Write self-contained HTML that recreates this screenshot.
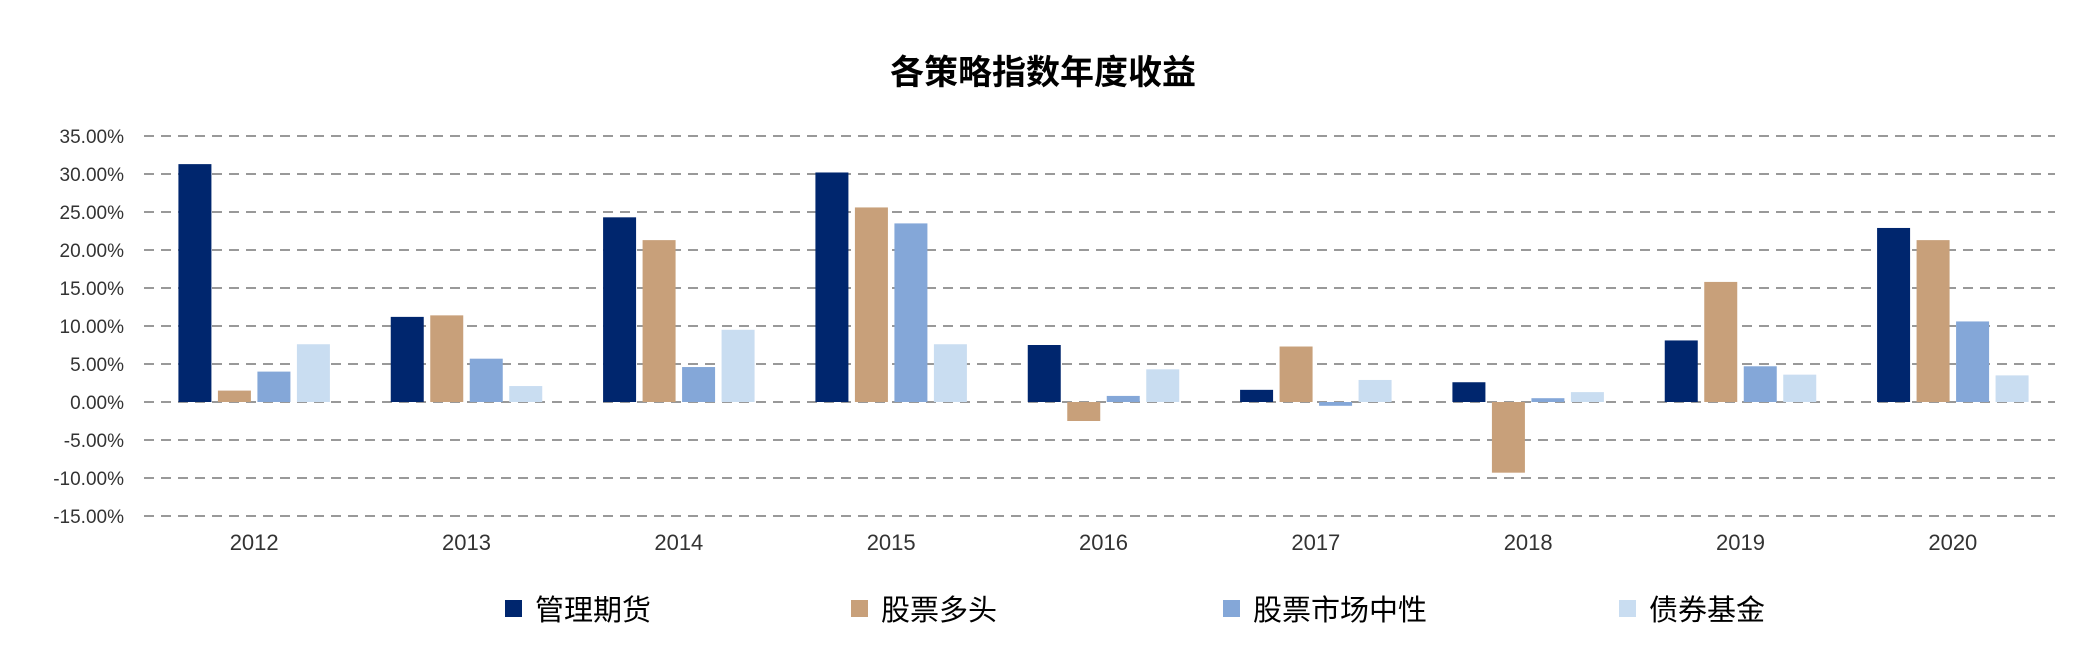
<!DOCTYPE html>
<html><head><meta charset="utf-8">
<style>
html,body{margin:0;padding:0;background:#fff;}
svg{display:block;}
text{font-family:"Liberation Sans","Noto Sans CJK SC",sans-serif;}
</style></head>
<body>
<svg id="chart" width="2085" height="668" viewBox="0 0 2085 668">
<text x="1043" y="84" text-anchor="middle" font-size="34" font-weight="bold" fill="#000">各策略指数年度收益</text>
<g id="grid"></g><g id="bars"></g><g id="labels"></g><g id="legend"></g>
</svg>
<script>
const categories = ["2012","2013","2014","2015","2016","2017","2018","2019","2020"];
const seriesNames = ["管理期货","股票多头","股票市场中性","债券基金"];
const managedFutures = [31.3,11.2,24.3,30.2,7.5,1.6,2.6,8.1,22.9];
const stockLong = [1.5,11.4,21.3,25.6,-2.5,7.3,-9.3,15.8,21.3];
const marketNeutral = [4.0,5.7,4.6,23.5,0.8,-0.5,0.5,4.7,10.6];
const bondFund = [7.6,2.1,9.5,7.6,4.3,2.9,1.3,3.6,3.5];
const yTicks = [35,30,25,20,15,10,5,0,-5,-10,-15];
const yTickLabels = ["35.00%","30.00%","25.00%","20.00%","15.00%","10.00%","5.00%","0.00%","-5.00%","-10.00%","-15.00%"];

const NS="http://www.w3.org/2000/svg";
const colors=["#00266E","#C8A07A","#84A7D8","#C9DDF1"];
const series=[managedFutures,stockLong,marketNeutral,bondFund];
const X0=144,X1=2055,Y35=136,Y0=402;
const pxPer=(Y0-Y35)/35;
function y(v){return Y0-v*pxPer;}
const gw=(X1-X0)/categories.length;
function gx(i){return X0+gw*(i+0.5)+4;}
function mk(t,a,p){const e=document.createElementNS(NS,t);for(const k in a)e.setAttribute(k,a[k]);p.appendChild(e);return e;}
const grid=document.getElementById('grid'),bars=document.getElementById('bars'),labels=document.getElementById('labels'),legend=document.getElementById('legend');
yTicks.forEach((t,i)=>{
  const l=mk('line',{x1:X0,x2:X1,y1:y(t),y2:y(t),stroke:'#999','stroke-width':2,'stroke-dasharray':'10 7'},grid);
  
  
  const tx=mk('text',{x:124,y:y(t)+7,'text-anchor':'end','font-size':19,fill:'#333'},labels);
  tx.textContent=yTickLabels[i];
  
  
});
const bw=33,step=39.5;
categories.forEach((c,i)=>{
  series.forEach((s,j)=>{
    const v=s[i];
    const bx=gx(i)-2*step+j*step+(step-bw)/2;
    const r=mk('rect',{x:bx,y:Math.min(y(v),y(0)),width:bw,height:Math.abs(y(v)-y(0)),fill:colors[j]},bars);
    
    
  });
  const tx=mk('text',{x:gx(i),y:550,'text-anchor':'middle','font-size':22,fill:'#333'},labels);
  tx.textContent=c;
  
  
});
const lx=[505,851,1223,1619];
seriesNames.forEach((n,j)=>{
  const r=mk('rect',{x:lx[j],y:600,width:17,height:17,fill:colors[j]},legend);
  
  
  const t=mk('text',{x:lx[j]+30,y:620,'font-size':29,fill:'#000'},legend);
  t.textContent=n;
  
  
});
</script>
</body></html>
